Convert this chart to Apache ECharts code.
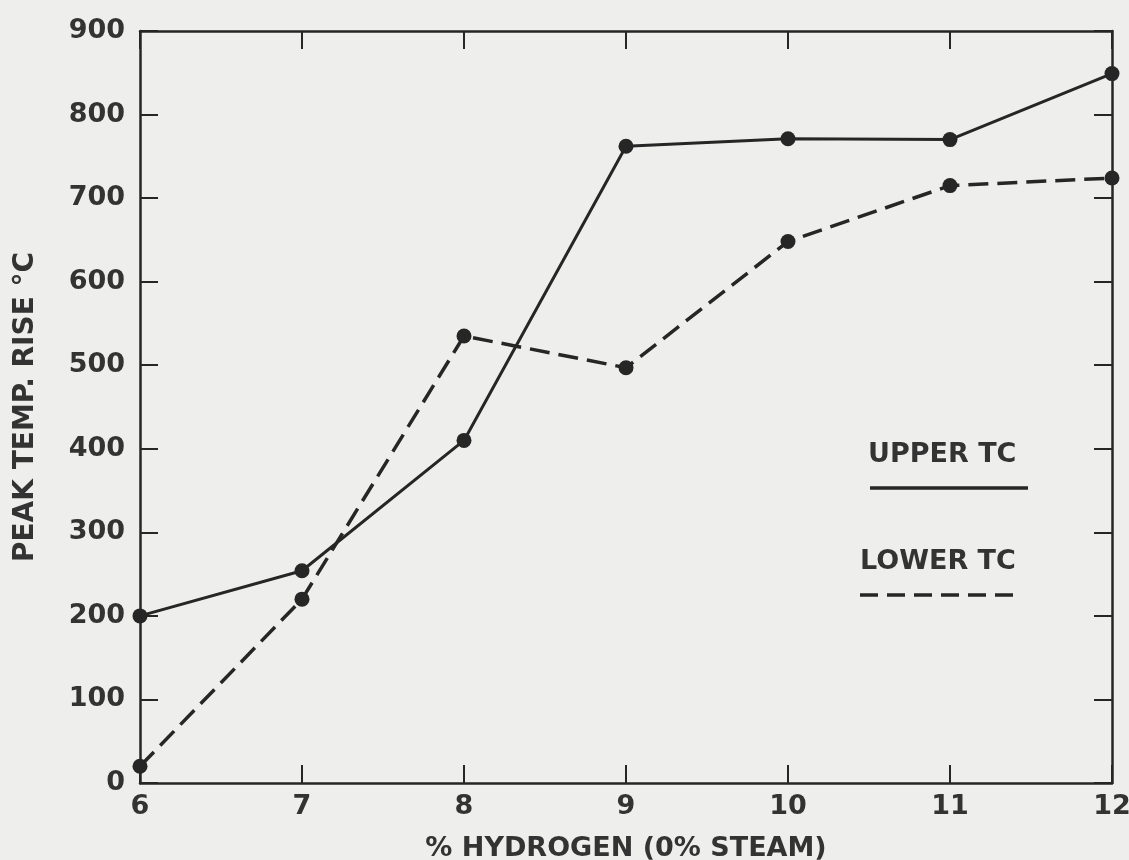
<!DOCTYPE html>
<html>
<head>
<meta charset="utf-8">
<script src="https://cdn.jsdelivr.net/npm/echarts@6/dist/echarts.min.js"></script>
<style>
html,body{margin:0;padding:0;background:#eeeeec;}
#chart{width:1129px;height:860px;}
</style>
</head>
<body>
<div id="chart"></div>
<script>
var hydrogen = [6, 7, 8, 9, 10, 11, 12];
var upperTC = [200, 254, 410, 762, 771, 770, 849];
var lowerTC = [20, 220, 535, 497, 648, 715, 724];
var yTicks = [0, 100, 200, 300, 400, 500, 600, 700, 800, 900];
var xTicks = [6, 7, 8, 9, 10, 11, 12];

var INK = '#262626';
var TXT = '#333333';
var FONT = '"DejaVu Sans", "Liberation Sans", sans-serif';

function pairs(xs, ys) { return xs.map(function (x, i) { return [x, ys[i]]; }); }

var chart = echarts.init(document.getElementById('chart'));
var baseAxisLine = { show: true, onZero: false, lineStyle: { color: INK, width: 2.5 } };
var baseTick = { show: true, inside: true, length: 18, lineStyle: { color: INK, width: 2 } };

chart.setOption({
  backgroundColor: '#eeeeec',
  animation: false,
  grid: { left: 140, right: 17, top: 31, bottom: 77, containLabel: false, outerBoundsMode: 'none' },
  xAxis: [{
    type: 'value', min: xTicks[0], max: xTicks[xTicks.length - 1], interval: 1,
    position: 'bottom',
    axisLine: baseAxisLine, axisTick: baseTick, splitLine: { show: false },
    axisLabel: { color: TXT, fontFamily: FONT, fontWeight: 'bold', fontSize: 27, margin: 10 },
    name: '% HYDROGEN (0% STEAM)', nameLocation: 'middle', nameGap: 52,
    nameTextStyle: { color: TXT, fontFamily: FONT, fontWeight: 'bold', fontSize: 27 }
  }, {
    type: 'value', min: xTicks[0], max: xTicks[xTicks.length - 1], interval: 1,
    position: 'top',
    axisLine: baseAxisLine, axisTick: baseTick, splitLine: { show: false },
    axisLabel: { show: false }
  }],
  yAxis: [{
    type: 'value', min: yTicks[0], max: yTicks[yTicks.length - 1], interval: 100,
    position: 'left',
    axisLine: baseAxisLine, axisTick: baseTick, splitLine: { show: false },
    axisLabel: { color: TXT, fontFamily: FONT, fontWeight: 'bold', fontSize: 27, margin: 15 },
    name: 'PEAK TEMP. RISE °C', nameLocation: 'middle', nameGap: 100, nameRotate: 90,
    nameTextStyle: { color: TXT, fontFamily: FONT, fontWeight: 'bold', fontSize: 28 }
  }, {
    type: 'value', min: yTicks[0], max: yTicks[yTicks.length - 1], interval: 100,
    position: 'right',
    axisLine: baseAxisLine, axisTick: baseTick, splitLine: { show: false },
    axisLabel: { show: false }
  }],
  series: [{
    name: 'UPPER TC', type: 'line', xAxisIndex: 0, yAxisIndex: 0,
    data: pairs(hydrogen, upperTC),
    symbol: 'circle', symbolSize: 15,
    lineStyle: { color: INK, width: 3 },
    itemStyle: { color: INK }
  }, {
    name: 'LOWER TC', type: 'line', xAxisIndex: 0, yAxisIndex: 0,
    data: pairs(hydrogen, lowerTC),
    symbol: 'circle', symbolSize: 15,
    lineStyle: { color: INK, width: 3.5, type: [20, 9] },
    itemStyle: { color: INK }
  }],
  graphic: [
    { type: 'text', left: 868, top: 441,
      style: { text: 'UPPER TC', fill: TXT, font: 'bold 27px ' + FONT } },
    { type: 'line', shape: { x1: 870, y1: 488, x2: 1028, y2: 488 },
      style: { stroke: INK, lineWidth: 3.5 } },
    { type: 'text', left: 860, top: 548,
      style: { text: 'LOWER TC', fill: TXT, font: 'bold 27px ' + FONT } },
    { type: 'line', shape: { x1: 860, y1: 595, x2: 1022, y2: 595 },
      style: { stroke: INK, lineWidth: 3.5, lineDash: [18, 9] } }
  ]
});
</script>
</body>
</html>
